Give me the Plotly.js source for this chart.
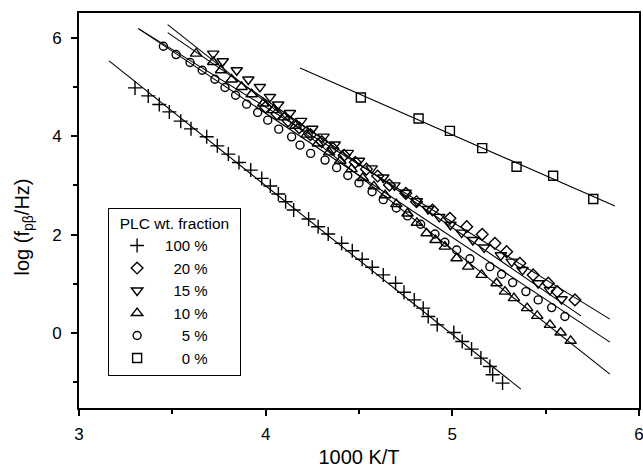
<!DOCTYPE html>
<html>
<head>
<meta charset="utf-8">
<script src="https://cdn.plot.ly/plotly-3.0.1.min.js"></script>
<style>html,body{margin:0;padding:0;background:#fff;}#chart{width:643px;height:468px;}</style>
</head>
<body>
<div id="chart"></div>
<script>
// ---- data ----
const seriesNames = ['100 %', '\u200720 %', '\u200715 %', '\u200710 %', '\u2007\u20075 %', '\u2007\u20070 %'];

const x100 = [3.300,3.371,3.430,3.484,3.545,3.600,3.684,3.741,3.800,3.857,3.920,3.979,4.025,4.068,4.107,4.150,4.230,4.281,4.335,4.407,4.464,4.517,4.571,4.630,4.696,4.741,4.796,4.844,4.871,4.919,5.008,5.053,5.103,5.153,5.201,5.216,5.269];
const y100 = [4.979,4.817,4.642,4.492,4.304,4.148,3.986,3.803,3.635,3.466,3.310,3.142,2.986,2.824,2.668,2.500,2.317,2.161,2.013,1.824,1.674,1.500,1.338,1.182,1.014,0.831,0.675,0.507,0.337,0.168,0.012,-0.170,-0.324,-0.507,-0.677,-0.845,-1.014];

const x20 = [4.00,4.06,4.12,4.18,4.24,4.30,4.36,4.42,4.48,4.54,4.60,4.663,4.751,4.808,4.894,4.987,5.077,5.160,5.228,5.291,5.362,5.433,5.514,5.562,5.657];
const y20 = [4.59,4.45,4.31,4.17,4.03,3.89,3.75,3.61,3.47,3.33,3.19,3.006,2.838,2.668,2.500,2.331,2.161,2.007,1.824,1.654,1.419,1.182,1.014,0.843,0.675];

const x15 = [3.719,3.770,3.845,3.907,3.969,4.023,4.067,4.130,4.190,4.250,4.310,4.370,4.440,4.500,4.568,4.630,4.690,4.750,4.810,4.870,4.930,4.990,5.050,5.110,5.170,5.260,5.318,5.376,5.460,5.523,5.585];
const y15 = [5.676,5.520,5.338,5.149,4.999,4.796,4.642,4.470,4.310,4.150,3.990,3.830,3.660,3.500,3.345,3.160,3.000,2.850,2.680,2.520,2.360,2.200,2.040,1.890,1.740,1.580,1.451,1.283,1.014,0.878,0.689];

const x10 = [3.627,3.719,3.761,3.818,3.871,3.925,3.987,4.041,4.100,4.160,4.220,4.280,4.340,4.400,4.460,4.520,4.580,4.640,4.700,4.760,4.810,4.862,4.910,4.960,5.023,5.085,5.157,5.237,5.282,5.330,5.401,5.455,5.523,5.580,5.634];
const y10 = [5.676,5.506,5.338,5.149,4.999,4.851,4.663,4.527,4.380,4.210,4.030,3.850,3.670,3.500,3.330,3.150,2.980,2.800,2.620,2.430,2.240,2.027,1.890,1.756,1.520,1.350,1.182,1.014,0.843,0.710,0.507,0.351,0.168,0.012,-0.156];

const x5 = [3.452,3.520,3.595,3.660,3.728,3.782,3.839,3.898,3.957,4.011,4.070,4.139,4.184,4.241,4.318,4.380,4.440,4.500,4.570,4.630,4.700,4.760,4.830,4.907,4.960,5.023,5.094,5.201,5.264,5.323,5.394,5.460,5.532,5.603];
const y5 = [5.824,5.656,5.494,5.338,5.155,4.987,4.831,4.649,4.480,4.324,4.142,3.985,3.817,3.649,3.513,3.360,3.200,3.050,2.870,2.710,2.540,2.380,2.210,2.013,1.845,1.689,1.509,1.350,1.196,1.026,0.843,0.675,0.519,0.337];

const x0 = [4.510,4.819,4.987,5.160,5.344,5.540,5.755];
const y0 = [4.784,4.358,4.107,3.756,3.377,3.195,2.722];

// fitted lines (end points)
const fitX100 = [3.161, 5.367], fitY100 = [5.527, -1.136];
const fitX20 = [3.318, 5.844], fitY20 = [6.183, 0.284];
const fitX15 = [3.475, 5.689], fitY15 = [6.102, 0.351];
const fitX10 = [3.475, 5.844], fitY10 = [6.264, -0.831];
const fitX5 = [3.318, 5.844], fitY5 = [6.183, -0.183];
const fitX0 = [4.184, 5.871], fitY0 = [5.384, 2.581];

const xTitle = '1000 K/T';
const yTitle = 'log (f<sub>pβ</sub>/Hz)';
const legendTitle = '\u00a0\u00a0PLC wt. fraction\u00a0\u00a0';

// ---- traces ----
const K = 'black';
function pts(x, y, name, symbol, size) {
  return {x: x, y: y, name: name, type: 'scatter', mode: 'markers',
    marker: {symbol: symbol, size: size, color: K, line: {color: K, width: 1.4}},
    hoverinfo: 'x+y'};
}
function fit(x, y) {
  return {x: x, y: y, type: 'scatter', mode: 'lines', showlegend: false,
    line: {color: K, width: 1.1}, hoverinfo: 'skip'};
}
const data = [
  fit(fitX100, fitY100), fit(fitX20, fitY20), fit(fitX15, fitY15),
  fit(fitX10, fitY10), fit(fitX5, fitY5), fit(fitX0, fitY0),
  pts(x100, y100, seriesNames[0], 'cross-thin-open', 10),
  pts(x20, y20, seriesNames[1], 'diamond-open', 9),
  pts(x15, y15, seriesNames[2], 'triangle-down-open', 10),
  pts(x10, y10, seriesNames[3], 'triangle-up-open', 10),
  pts(x5, y5, seriesNames[4], 'circle-open', 8),
  pts(x0, y0, seriesNames[5], 'square-open', 9)
];

const axisCommon = {
  ticks: 'outside', ticklen: 6, tickwidth: 1.8, tickcolor: K,
  showline: true, linewidth: 1.8, linecolor: K, mirror: true,
  showgrid: false, zeroline: false, tickfont: {size: 17, color: K}
};

const layout = {
  width: 643, height: 468,
  margin: {l: 79, r: 4, t: 13, b: 60},
  paper_bgcolor: 'white', plot_bgcolor: 'white',
  font: {family: 'Liberation Sans, Arial, sans-serif', color: K, size: 16},
  showlegend: true,
  xaxis: Object.assign({}, axisCommon, {
    range: [3, 6], tick0: 3, dtick: 1, ticklabelstandoff: 4, ticklabeloverflow: 'allow',
    minor: {ticks: 'outside', dtick: 0.5, tick0: 3, ticklen: 4, tickwidth: 1.8, tickcolor: K},
    title: {text: xTitle, font: {size: 20, color: K}, standoff: 10}
  }),
  yaxis: Object.assign({}, axisCommon, {
    range: [-1.52, 6.5], tick0: 0, dtick: 2, ticklabelstandoff: 6,
    minor: {ticks: 'outside', dtick: 1, tick0: 0, ticklen: 4, tickwidth: 1.8, tickcolor: K}
  }),
  legend: {
    x: 0.052, y: 0.506, xanchor: 'left', yanchor: 'top',
    bordercolor: K, borderwidth: 1, bgcolor: 'white',
    font: {size: 15, color: K}, itemwidth: 46, tracegroupgap: 0,
    title: {text: legendTitle, font: {size: 15.5, color: K}}
  },
  annotations: [{
    text: yTitle, xref: 'paper', yref: 'paper', x: -0.1, y: 0.457,
    xanchor: 'center', yanchor: 'middle', textangle: -90, showarrow: false,
    font: {size: 20, color: K}
  }]
};

Plotly.newPlot('chart', data, layout, {displayModeBar: false, staticPlot: true});
</script>
</body>
</html>
